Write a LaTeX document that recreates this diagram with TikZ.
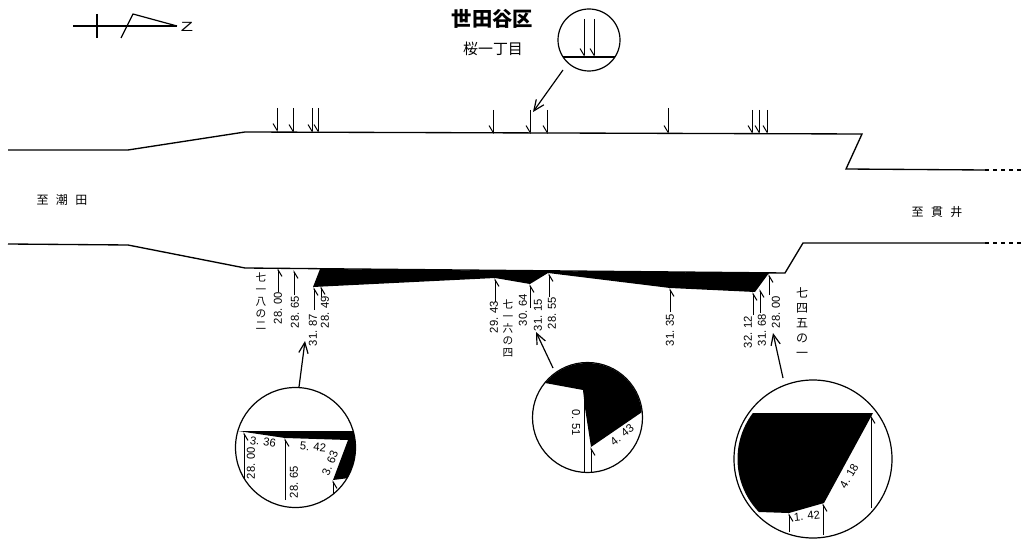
\documentclass[tikz,border=0pt]{standalone}
\usepackage{fontspec}
\setmainfont{Liberation Sans}
\newfontfamily\cjkfont{Noto Sans CJK JP}
\newfontfamily\dimfont[FakeStretch=0.98]{Liberation Sans}
\usetikzlibrary{arrows.meta}
\tikzset{
	road/.style={black,line width=1pt},
	leader/.style={black,line width=0.75pt,-{Straight Barb[harpoon,swap,length=5pt,width=6pt]}},
	pointer/.style={black,line width=0.9pt,-{Straight Barb[length=8pt,width=7pt]}},
	lens/.style={black,line width=0.9pt},
	dimtext/.style={inner sep=0pt,font=\fontsize{8.6pt}{9pt}\dimfont},
	lottext/.style={inner sep=0pt,align=center,font=\fontsize{8pt}{9pt}\cjkfont},
	placetext/.style={inner sep=0pt,font=\fontsize{9pt}{10pt}\cjkfont}
}
\begin{document}
\begin{tikzpicture}[x=0.75pt,y=-0.75pt]
	\useasboundingbox (0,0) rectangle (1024,552);
	% north mark
	\draw [black,line width=0.8pt] (73,26) -- (177,26);
	\draw [black,line width=0.9pt] (97,14) -- (97,38);
	\draw [black,line width=0.9pt] (121,38) -- (133,14) -- (177,26);
	\node [inner sep=0pt,font=\fontsize{10pt}{10pt}\selectfont,xscale=1.5] (north) at (187,27) {Z};
	% titles
	\node [placetext,font=\fontsize{15.2pt}{16pt}\cjkfont\bfseries] (ward) at (492.5,19) {世田谷区};
	\node [placetext,font=\fontsize{11.2pt}{12pt}\cjkfont] (block) at (493,49) {桜一丁目};
	\node [placetext] (west) at (62,200) {至\hspace{5.6pt}潮\hspace{5.6pt}田};
	\node [placetext] (east) at (937,212) {至\hspace{5.6pt}貫\hspace{5.6pt}井};
	% road edges
	\draw [road] (8,150) -- (128,150) -- (245,132) -- (862,134) -- (846,169) -- (985,170);
	\draw [road,dashed] (985,170) -- (1024,170);
	\draw [road] (8,244) -- (128,245) -- (245,268) -- (785,273) -- (803,243) -- (985,243);
	\draw [road,dashed] (985,243) -- (1024,243);
	% cut strip
	\fill [black] (320,269) -- (769,273) -- (755,292) -- (670,288) -- (548,273) -- (530,284) -- (495,278) -- (313,287) -- cycle;
	% upper marks
	\draw [leader] (277,108) -- (277,132);
	\draw [leader] (293,108) -- (293,133);
	\draw [leader] (312,108) -- (312,133);
	\draw [leader] (318,108) -- (318,133);
	\draw [leader] (493,110) -- (493,134);
	\draw [leader] (530,110) -- (530,134);
	\draw [leader] (547,110) -- (547,134);
	\draw [leader] (668,108) -- (668,134);
	\draw [leader] (752,110) -- (752,134);
	\draw [leader] (759,110) -- (759,134);
	\draw [leader] (767,110) -- (767,134);
	% lower marks
	\draw [leader] (278,292) -- (278,268);
	\draw [leader] (294,295) -- (294,270);
	\draw [leader] (314,310) -- (314,287);
	\draw [leader] (321,297) -- (321,286);
	\draw [leader] (495,302) -- (495,278);
	\draw [leader] (530,308) -- (530,284);
	\draw [leader] (549,297) -- (549,273);
	\draw [leader] (670,312) -- (670,288);
	\draw [leader] (753,315) -- (753,292);
	\draw [leader] (760,313) -- (760,289);
	\draw [leader] (769,295) -- (769,274);
	% lower labels
	\node [dimtext,rotate=90] (a2800) at (278,308) {28. 00};
	\node [dimtext,rotate=90] (a2865) at (295,312) {28. 65};
	\node [dimtext,rotate=90] (a3187) at (313,330) {31. 87};
	\node [dimtext,rotate=90] (a2849) at (325,312) {28. 49};
	\node [dimtext,rotate=90] (b2943) at (494,317) {29. 43};
	\node [dimtext,rotate=90] (b3064) at (523,310) {30. 64};
	\node [dimtext,rotate=90] (b3115) at (538,315) {31. 15};
	\node [dimtext,rotate=90] (b2855) at (552,313) {28. 55};
	\node [dimtext,rotate=90] (b3135) at (670,330) {31. 35};
	\node [dimtext,rotate=90] (c3212) at (748,332) {32. 12};
	\node [dimtext,rotate=90] (c3168) at (762,330) {31. 68};
	\node [dimtext,rotate=90] (c2800) at (776,312) {28. 00};
	\node [lottext] (lota) at (261,301) {七\\一\\八\\の\\二};
	\node [lottext] (lotb) at (508,328) {七\\一\\六\\の\\四};
	\node [lottext,font=\fontsize{9pt}{11.25pt}\cjkfont] (lotc) at (802,323) {七\\四\\五\\の\\一};
	% lens, upper
	\draw [lens] (589,40) circle (31);
	\begin{scope}
		\clip (589,40) circle (31);
		\draw [lens] (555,57) -- (625,57);
		\draw [leader] (584,19) -- (584,57);
		\draw [leader] (594,19) -- (594,57);
	\end{scope}
	\draw [pointer] (563,70) -- (533,112);
	% lens, left
	\draw [lens] (295.5,447.5) circle (60);
	\begin{scope}
		\clip (295.5,447.5) circle (60);
		\fill [black] (238,431) -- (358,431) -- (358,478) -- (349,478) -- (333,480) -- (348,440) -- (285,438) -- cycle;
		\draw [leader] (244,490) -- (244,432);
		\draw [leader] (285,500) -- (285,438);
		\draw [leader] (333,500) -- (333,480);
	\end{scope}
	\node [dimtext,rotate=-8] (la336) at (263,442) {3. 36};
	\node [dimtext,rotate=90] (la2800) at (251,463) {28. 00};
	\node [dimtext,rotate=90] (la2865) at (294,482) {28. 65};
	\node [dimtext,rotate=-6] (la542) at (313,447) {5. 42};
	\node [dimtext,rotate=68] (la363) at (330,463) {3. 63};
	\draw [pointer] (299,387) -- (305,341);
	% lens, middle
	\draw [lens] (587.5,417.5) circle (55);
	\begin{scope}
		\clip (587.5,417.5) circle (54.5);
		\fill [black] (545,383) -- (583,390) -- (585,408) -- (591,447) -- (645,410) -- (650,350) -- (540,350) -- cycle;
		\draw [leader] (584,472) -- (584,390);
		\draw [leader] (591,472) -- (591,447);
	\end{scope}
	\node [dimtext,rotate=-90] (lb051) at (576,423) {0. 51};
	\node [dimtext,rotate=38] (lb443) at (622,435) {4. 43};
	\draw [pointer] (553,368) -- (536,332);
	% lens, right
	\draw [lens] (813,459) circle (79);
	\begin{scope}
		\clip (814,459) circle (76.5);
		\fill [black] (700,413) -- (873,413) -- (824,503) -- (789,513) -- (759,512) -- (700,512) -- cycle;
	\end{scope}
	\begin{scope}
		\clip (813,459) circle (79);
		\draw [leader] (871,508) -- (871,415);
		\draw [leader] (789,532) -- (789,513);
		\draw [leader] (823,535) -- (823,503);
	\end{scope}
	\node [dimtext,rotate=6] (lc142) at (807,516) {1. 42};
	\node [dimtext,rotate=60] (lc418) at (849,476) {4. 18};
	\draw [pointer] (783,378) -- (773,333);
\end{tikzpicture}
\end{document}
